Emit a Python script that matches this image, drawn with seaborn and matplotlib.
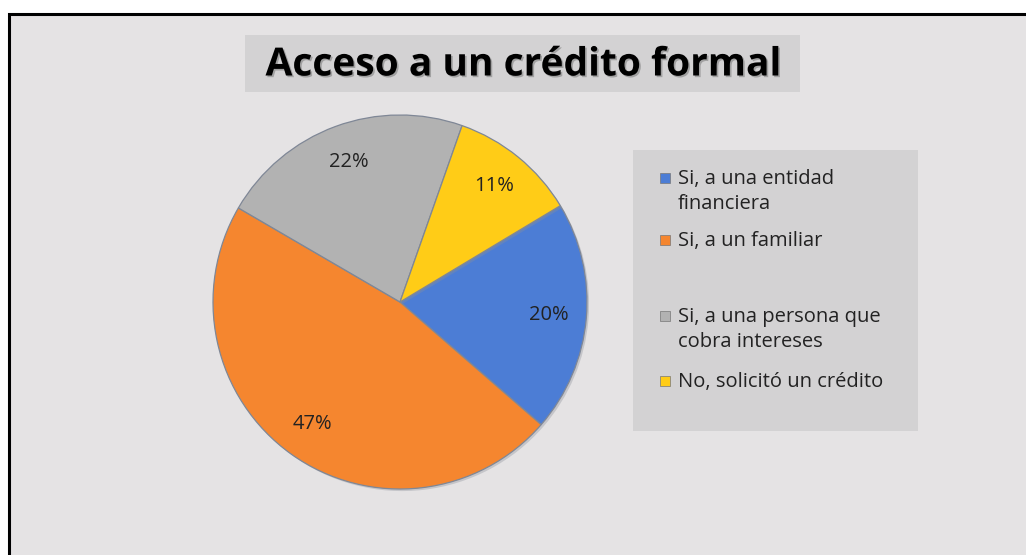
import matplotlib
matplotlib.use("Agg")
import matplotlib.pyplot as plt
import matplotlib.patheffects as pe
from matplotlib.patches import Rectangle
import seaborn as sns

sns.set_theme(style="white")
plt.rcParams["font.family"] = ["Open Sans", "DejaVu Sans"]

# Data
categories = [
    "Si, a una entidad\nfinanciera",
    "Si, a un familiar",
    "Si, a una persona que\ncobra intereses",
    "No, solicitó un crédito",
]
shares = [20, 47, 22, 11]
title = "Acceso a un crédito formal"

colors = sns.color_palette(["#4c7dd5", "#f5862f", "#b2b2b2", "#ffcc17"])

W, H = 1026, 555
fig = plt.figure(figsize=(W / 100, H / 100), dpi=100, facecolor="white")

def fx(px):
    return px / W

def fy(py):
    return 1 - py / H

# Chart area with black frame (left/top edges visible)
fig.patches.append(Rectangle((fx(9), fy(W)), fx(W + 20), fy(14) - fy(W),
                             transform=fig.transFigure, facecolor="#e5e3e4",
                             edgecolor="black", linewidth=2.2, zorder=0))

# Title box
fig.patches.append(Rectangle((fx(245), fy(92)), fx(800 - 245), fy(35) - fy(92),
                             transform=fig.transFigure, facecolor="#d3d2d3",
                             edgecolor="none", zorder=1))
fig.text(fx(523), fy(65), title, ha="center", va="center", fontsize=28,
         fontweight="bold", color="black", zorder=2,
         path_effects=[pe.withSimplePatchShadow(offset=(1.2, -1.2),
                                                shadow_rgbFace="#666666", alpha=0.45)])

# Pie
cx, cy, r = 400, 302, 187
ax = fig.add_axes([fx(cx - r), fy(cy + r), fx(2 * r), fy(cy - r) - fy(cy + r)])
ax.set_zorder(5)
wedges, texts, autotexts = ax.pie(
    shares, colors=colors, startangle=31, counterclock=False,
    autopct="%d%%", pctdistance=0.8,
    wedgeprops=dict(edgecolor="#7f8796", linewidth=0.9),
    textprops=dict(fontsize=14.5, color="#222222"),
)
for w in wedges:
    w.set_path_effects([pe.SimplePatchShadow(offset=(1.5, -1.5),
                                             shadow_rgbFace="#8a8f99", alpha=0.35),
                        pe.Normal()])
ax.set_xlim(-1.0, 1.0)
ax.set_ylim(-1.0, 1.0)
ax.set_aspect("equal")
ax.axis("off")

# Legend box
fig.patches.append(Rectangle((fx(633), fy(431)), fx(918 - 633), fy(150) - fy(431),
                             transform=fig.transFigure, facecolor="#d3d2d3",
                             edgecolor="none", zorder=1))
entry_y = [178, 240, 316, 381]
for col, label, y in zip(colors, categories, entry_y):
    fig.patches.append(Rectangle((fx(660), fy(y + 5)), fx(10), fy(y - 5) - fy(y + 5),
                                 transform=fig.transFigure, facecolor=col,
                                 edgecolor="#777777", linewidth=0.5, zorder=2))
    fig.text(fx(678), fy(y - 9), label, ha="left", va="top", fontsize=14.5,
             color="#222222", linespacing=1.35, zorder=2)

fig.savefig("out.png", dpi=100, facecolor="white")
